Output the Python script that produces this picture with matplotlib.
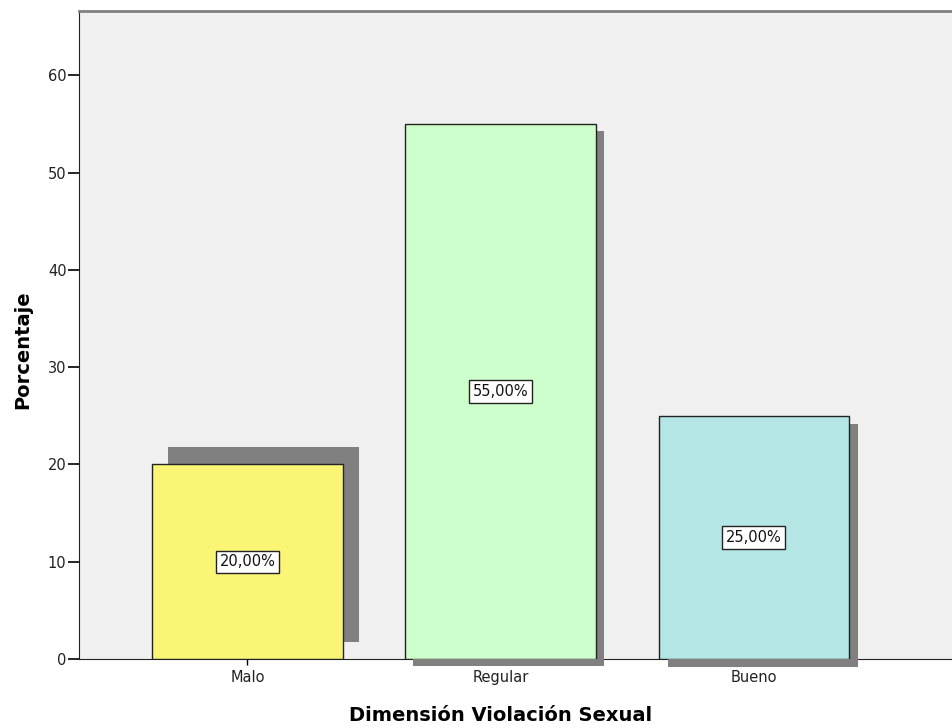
import matplotlib
matplotlib.use("Agg")
import matplotlib.pyplot as plt
from matplotlib.transforms import ScaledTranslation

categories = ["Malo", "Regular", "Bueno"]
percentages = [20.0, 55.0, 25.0]
bar_labels = ["20,00%", "55,00%", "25,00%"]
bar_colors = ["#FAF575", "#CCFFCC", "#B4E6E6"]
# SPSS draws the drop shadow with a different offset per bar (in pixels)
shadow_offsets = [(16, 17), (8, -7), (9, -8)]

plt.rcParams['font.family'] = ['DejaVu Sans']

fig = plt.figure(figsize=(9.52, 7.28), dpi=100)
ax = fig.add_axes([79 / 952, 69 / 728, 1 - 79 / 952 + 0.002, 648 / 728])
ax.set_facecolor("#F0F0F0")

x = list(range(len(categories)))
width = 0.752

# shadows first, shifted in screen space
for xi, val, (dx, dy) in zip(x, percentages, shadow_offsets):
    shift = ax.transData + ScaledTranslation(dx / 100, dy / 100, fig.dpi_scale_trans)
    ax.bar(xi, val, width=width, color="#808080", edgecolor="none",
           transform=shift, zorder=3, clip_on=False)

ax.bar(x, percentages, width=width, color=bar_colors, edgecolor="#222222",
       linewidth=1.0, zorder=4)

for xi, val, lab in zip(x, percentages, bar_labels):
    ax.text(xi, val / 2, lab, ha="center", va="center", fontsize=10.5, zorder=5,
            color="#111111",
            bbox=dict(boxstyle="square,pad=0.25", facecolor="white",
                      edgecolor="#222222", linewidth=1.0))

ax.set_xlim(-0.665, 2.79)
ax.set_ylim(0, 66.6)
ax.set_yticks([0, 10, 20, 30, 40, 50, 60])
ax.set_xticks(x)
ax.set_xticklabels(categories)
ax.tick_params(axis="y", length=8, width=1.2, labelsize=10.5, pad=1,
               labelcolor="#222222")
ax.tick_params(axis="x", length=4, width=1.0, labelsize=10.5, pad=4,
               labelcolor="#222222")

ax.spines["right"].set_visible(False)
ax.spines["top"].set_color("#808080")
ax.spines["top"].set_linewidth(2)
ax.spines["left"].set_color("#222222")
ax.spines["bottom"].set_color("#222222")

ax.set_ylabel("Porcentaje", fontsize=14, fontweight="bold")
ax.set_xlabel("Dimensión Violación Sexual", fontsize=14, fontweight="bold")
ax.yaxis.set_label_coords(-0.053, 0.477)
ax.xaxis.set_label_coords(0.4823, -0.073)

fig.savefig("out.png", dpi=100)
